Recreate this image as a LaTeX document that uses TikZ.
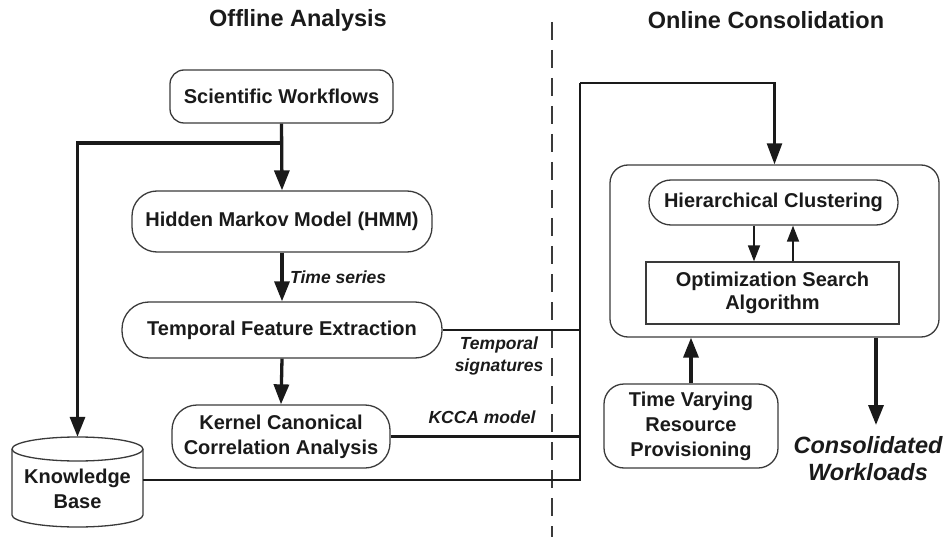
\documentclass[tikz,border=0pt]{standalone}
\usepackage{fontspec}
\setmainfont{Liberation Sans}
\usetikzlibrary{arrows.meta}
\definecolor{ink}{HTML}{1A1A1A}
\definecolor{bord}{HTML}{3A3A3A}
\newcommand\bxfont{\fontsize{20}{25}\selectfont\bfseries}
\newcommand\ttlfont{\fontsize{23.5}{27}\selectfont\bfseries}
\newcommand\lblfont{\fontsize{17.5}{22}\selectfont\bfseries\itshape}
\newcommand\cwfont{\fontsize{23.5}{27}\selectfont\bfseries\itshape}
\begin{document}
\begin{tikzpicture}[x=1pt,y=-1pt,
  box/.style={draw=bord, line width=1.3pt, rounded corners=#1, inner sep=0pt,
    align=center, font=\bxfont, text=ink},
  box/.default=14pt,
  plain/.style={inner sep=0pt, align=center, text=ink},
  arr/.style={draw=ink, line width=3.3pt, -{Triangle[length=20pt,width=15pt]}},
  arrm/.style={draw=ink, line width=2.4pt, -{Triangle[length=21pt,width=15pt]}},
  arrs/.style={draw=ink, line width=1.7pt, -{Triangle[length=16pt,width=12pt]}},
  wire/.style={draw=ink, line width=2.9pt},
  sep/.style={draw=bord, line width=1.2pt, dash pattern=on 18pt off 10pt}
]
\useasboundingbox (0,0) rectangle (944,537);

% titles
\node[plain, font=\ttlfont] (t1) at (298,20) {Offline Analysis};
\node[plain, font=\ttlfont] (t2) at (766,20) {Online Consolidation};

% separator
\coordinate (sepa) at (552,22);
\coordinate (sepb) at (552,537);
\draw[sep] (sepa) -- (sepb);

% offline boxes
\node[box=14pt, minimum width=223pt, minimum height=53pt] (sw) at (281.5,96.5) {Scientific Workflows};
\node[box=25pt, minimum width=300pt, minimum height=61pt] (hmm) at (282,221.5) {Hidden Markov Model (HMM)};
\node[box=27pt, minimum width=320pt, minimum height=56pt] (tfe) at (282,330) {Temporal Feature Extraction};
\node[box=25pt, minimum width=218pt, minimum height=63pt] (kcca) at (281,436.5) {Kernel Canonical\\Correlation Analysis};

% knowledge base cylinder
\draw[draw=bord, line width=1.3pt, fill=white]
  (12,449) -- (12,515) arc[start angle=180, end angle=360, x radius=65.5pt, y radius=12pt] -- (143,449);
\draw[draw=bord, line width=1.3pt] (77.5,449) ellipse[x radius=65.5pt, y radius=12pt];
\node[plain, font=\bxfont, minimum width=131pt, minimum height=101pt] (kb) at (77.5,488.5) {Knowledge\\Base};

% online boxes
\node[box=18pt, minimum width=329pt, minimum height=172pt] (outer) at (774.5,251) {};
\node[box=22pt, minimum width=249pt, minimum height=45pt] (hc) at (773.5,202.5) {Hierarchical Clustering};
\node[box=0pt, font=\fontsize{20}{23}\selectfont\bfseries, minimum width=253pt, minimum height=62pt] (opt) at (772.5,293) {Optimization Search\\Algorithm};
\node[box=20pt, minimum width=174pt, minimum height=84pt] (tv) at (691,426) {Time Varying\\Resource\\Provisioning};
\node[plain, font=\cwfont] (cw) at (868,458.5) {Consolidated\\Workloads};

% labels
\node[plain, font=\lblfont, anchor=west] (ts) at (290,277) {Time series};
\node[plain, font=\lblfont, align=center] (tsig) at (499,356) {Temporal\\signatures};
\node[plain, font=\lblfont] (km) at (482,417) {KCCA model};

% offline arrows
\coordinate (br) at (281,143);
\draw[arr] (sw.south) -- (hmm.north);
\draw[arr] (br) -| ([yshift=1pt]kb.north);
\draw[arr] (hmm.south) -- (tfe.north);
\draw[arr] (tfe.south) -- (kcca.north);

% bus
\coordinate (busb) at (580,480);
\coordinate (bust) at (580,83);
\draw[wire] (tfe.east) -- (tfe.east -| busb);
\draw[wire] (kcca.east) -- (kcca.east -| busb);
\draw[wire] (kb.east |- busb) -- (busb) -- (bust);
\draw[arrm] (bust) -| (outer.north);

% inner arrows
\draw[arrs] ([xshift=-19.5pt]hc.south) -- ([xshift=-19.5pt]hc.south |- opt.north);
\draw[arrs] ([xshift=19.5pt]hc.south |- opt.north) -- ([xshift=19.5pt]hc.south);

% provisioning and output
\draw[arr] (tv.north) -- (tv.north |- outer.south);
\coordinate (outtip) at (876,425);
\draw[arr] (outer.south -| outtip) -- (outtip);
\end{tikzpicture}
\end{document}
